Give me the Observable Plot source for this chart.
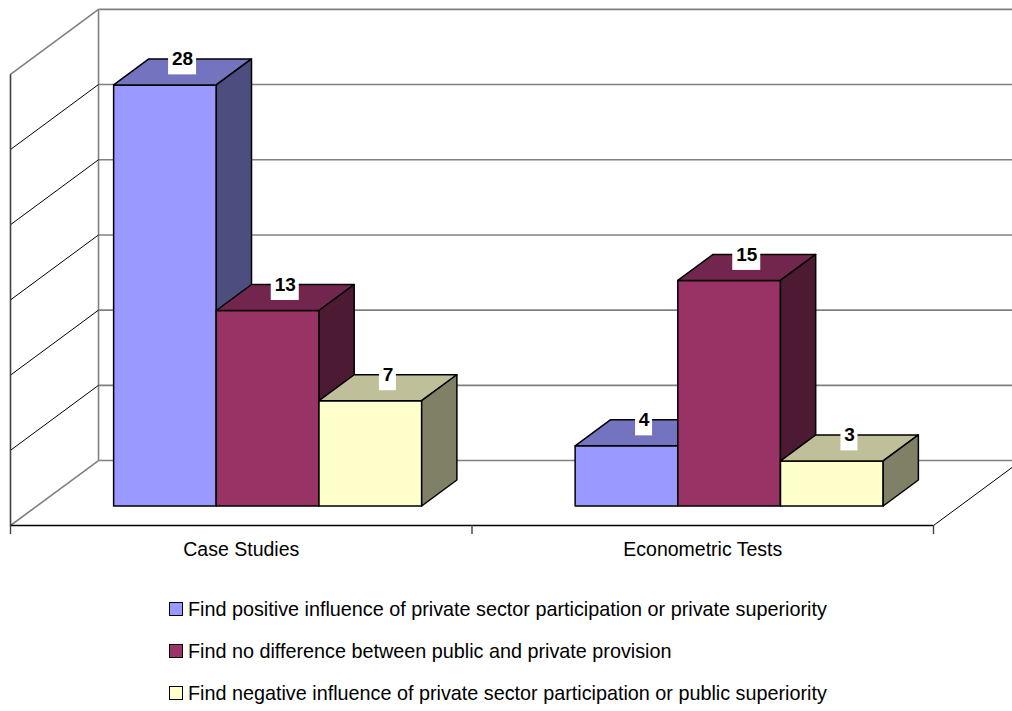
<!DOCTYPE html>
<html>
<head>
<meta charset="utf-8">
<script src="https://cdn.jsdelivr.net/npm/d3@7"></script>
<script src="https://cdn.jsdelivr.net/npm/@observablehq/plot@0.6"></script>
<style>
  body { margin: 0; background: #fff; font-family: "Liberation Sans", Arial, sans-serif; overflow: hidden; }
  #legend { padding-top: 13px; margin-left: 169px; }
  .item { display: flex; align-items: center; height: 42px; font-size: 19.8px; color: #000; }
  .swatch { width: 12px; height: 12px; border: 1px solid #000; margin-right: 5px; flex: none; }
</style>
</head>
<body>
<div id="chart"></div>
<div id="legend"></div>
<script>
// Studies grouped by method, counted by their finding
const categories = ["Case Studies", "Econometric Tests"];
const seriesNames = [
  "Find positive influence of private sector participation or private superiority",
  "Find no difference between public and private provision",
  "Find negative influence of private sector participation or public superiority"
];
const seriesColors = ["#9999FF", "#993366", "#FFFFCC"];
const positiveInfluence = [28, 4];
const noDifference = [13, 15];
const negativeInfluence = [7, 3];
const seriesValues = [positiveInfluence, noDifference, negativeInfluence];
const wallTicks = [0, 5, 10, 15, 20, 25, 30];

// Oblique 3-D projection done in data space: a unit of depth (z: 0 = front, 1 = back wall)
// moves a point right by DEPTH_X category units and up by DEPTH_Y value units.
const DEPTH_X = 0.1907;
const DEPTH_Y = 4.32;
const BAR_W = 0.2225;          // bar width in category units
const Z0 = 0.3, Z1 = 0.7;      // bar front and back depth
const P = (x, z, v) => ({x: x + z * DEPTH_X, y: v + z * DEPTH_Y});

const shade = (c, k) => {
  const s = d3.rgb(c);
  return d3.rgb(s.r * k, s.g * k, s.b * k).formatHex();
};

// Bar faces as closed polygons, painted left to right so each bar hides its neighbour's side
const faces = [];
categories.forEach((cat, ci) => {
  seriesValues.forEach((vals, si) => {
    const v = vals[ci];
    const x0 = ci + 0.5 + (si - 1.5) * BAR_W;
    const x1 = x0 + BAR_W;
    const col = seriesColors[si];
    const poly = (name, color, pts) =>
      pts.forEach(p => faces.push({id: `${ci}-${si}-${name}`, color, ...p}));
    poly("front", col, [P(x0, Z0, 0), P(x1, Z0, 0), P(x1, Z0, v), P(x0, Z0, v)]);
    poly("top", shade(col, 0.75), [P(x0, Z0, v), P(x1, Z0, v), P(x1, Z1, v), P(x0, Z1, v)]);
    poly("side", shade(col, 0.5), [P(x1, Z0, 0), P(x1, Z1, 0), P(x1, Z1, v), P(x1, Z0, v)]);
  });
});

// Value labels sit on the top face, centred across it, at its back edge
const labels = [];
categories.forEach((cat, ci) => {
  seriesValues.forEach((vals, si) => {
    const v = vals[ci];
    const cx = ci + 0.5 + (si - 1) * BAR_W;
    labels.push({x: cx + 0.5 * DEPTH_X, y: v + Z1 * DEPTH_Y, text: String(v)});
  });
});

// Walls and floor
const seg = (a, b) => ({x1: a.x, y1: a.y, x2: b.x, y2: b.y});
const wallTop = wallTicks[wallTicks.length - 1];
const nCat = categories.length;
const backGrid = wallTicks.map(v => seg(P(0, 1, v), P(nCat, 1, v)));
const sideEdges = [0, wallTop].map(v => seg(P(0, 0, v), P(0, 1, v)));
const sideGrid = wallTicks.slice(1, -1).map(v => seg(P(0, 0, v), P(0, 1, v)));
const backCorner = [seg(P(0, 1, 0), P(0, 1, wallTop))];
const frontCorner = [seg(P(0, 0, 0), P(0, 0, wallTop))];
const floorFront = [seg(P(0, 0, 0), P(nCat, 0, 0))];
const floorRight = [seg(P(nCat, 0, 0), P(nCat, 1, 0))];

const linkOpts = (stroke, strokeWidth) => ({x1: "x1", y1: "y1", x2: "x2", y2: "y2", stroke, strokeWidth});

const chart = Plot.plot({
  width: 1012,
  height: 575,
  marginTop: 0,
  marginRight: 0,
  marginBottom: 50,
  marginLeft: 0,
  style: {overflow: "hidden", background: "#fff"},
  x: {type: "linear", domain: [0, nCat], range: [10, 933], axis: null},
  y: {type: "linear", domain: [0, wallTop], range: [525, 525 - wallTop * 15.04], axis: null},
  color: {type: "identity"},
  marks: [
    Plot.link(backGrid, linkOpts("#808080", 1.6)),
    Plot.link(backCorner, linkOpts("#808080", 1.6)),
    Plot.link(sideEdges, linkOpts("#808080", 1.6)),
    Plot.link(sideGrid, linkOpts("#000", 1)),
    Plot.link(frontCorner, linkOpts("#404040", 1.6)),
    Plot.link(floorRight, linkOpts("#000", 1)),
    Plot.link(floorFront, linkOpts("#000", 1.6)),
    Plot.axisX({ticks: d3.range(nCat + 1), tickSize: 9, tickFormat: () => "", stroke: "#404040", strokeWidth: 1.4, label: null}),
    Plot.line(faces, {x: "x", y: "y", z: "id", fill: "color", stroke: "#000", strokeWidth: 1.5, strokeLinejoin: "round", curve: "linear-closed"}),
    Plot.rect(labels.filter(d => d.text.length > 1), {x1: "x", x2: "x", y1: "y", y2: "y", fill: "#fff", insetLeft: -14, insetRight: -14, insetTop: -9, insetBottom: -16}),
    Plot.rect(labels.filter(d => d.text.length === 1), {x1: "x", x2: "x", y1: "y", y2: "y", fill: "#fff", insetLeft: -8.5, insetRight: -8.5, insetTop: -9, insetBottom: -16}),
    Plot.text(labels, {x: "x", y: "y", text: "text", fontWeight: "bold", fontSize: 19, fill: "#000", fontFamily: "Liberation Sans, Arial, sans-serif"}),
    Plot.text(categories, {x: (d, i) => i + 0.5, frameAnchor: "bottom", lineAnchor: "middle", dy: 24, text: d => d, fontSize: 19.5, fill: "#000", fontFamily: "Liberation Sans, Arial, sans-serif"})
  ]
});
document.getElementById("chart").append(chart);

// Legend below the chart
const legend = document.getElementById("legend");
seriesNames.forEach((name, i) => {
  const item = document.createElement("div");
  item.className = "item";
  const sw = document.createElement("span");
  sw.className = "swatch";
  sw.style.background = seriesColors[i];
  const label = document.createElement("span");
  label.textContent = name;
  item.append(sw, label);
  legend.append(item);
});
</script>
</body>
</html>
